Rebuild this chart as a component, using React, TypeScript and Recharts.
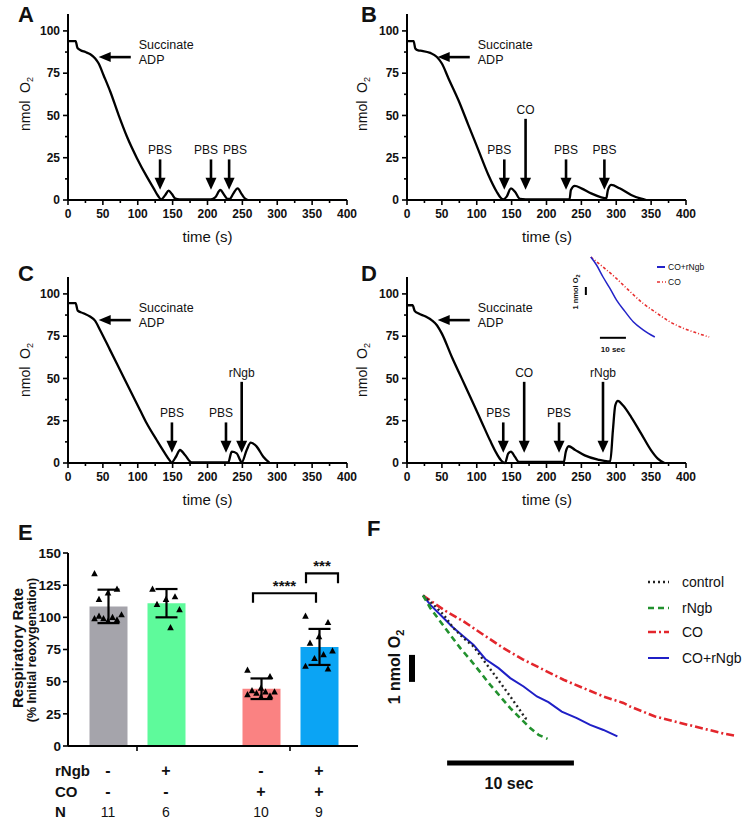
import React from 'react';
import {
  LineChart, Line, XAxis, YAxis, ReferenceLine,
  ComposedChart, Bar, Cell, ErrorBar, Scatter,
} from 'recharts';

const FONT = '"Liberation Sans", Arial, Helvetica, sans-serif';

// ---- A-D: oxygen traces (time in s, O2 in nmol)
const timeA = [0, 11, 13.5, 18, 25, 32, 39, 44, 51, 60.7, 72.6, 84.6, 99, 113, 122.8, 129, 133.5, 139.5, 144.3, 149, 154, 160, 205, 211, 218.4, 224, 229, 232, 236.5, 243.3, 249, 254, 257];
const o2A = [94, 94, 90, 88.6, 87.5, 86.2, 83.7, 80.7, 73.8, 64, 50.2, 37.4, 24.6, 13.8, 6.9, 2.5, 0.4, 3, 5.5, 3.5, 0.8, 0.4, 0.4, 1.5, 5.9, 3, 0.6, 0.6, 3.5, 6.9, 3.5, 0.8, 0.2];

const timeB = [0, 9.5, 11.9, 16, 21.4, 33.3, 42.9, 50, 59.5, 73.8, 88, 102.4, 116.7, 128.6, 134, 138, 142.9, 149, 154.8, 162, 170, 233, 235, 240.5, 250, 264, 278.6, 285.7, 288, 292.9, 304.8, 321.4, 335.7, 342.9];
const o2B = [94, 94, 89.6, 88.5, 88.2, 87, 84.6, 80.7, 71.9, 59, 44.3, 29.5, 14.8, 4.9, 1.5, 0.4, 2, 6.9, 4.9, 0.6, 0.4, 0.4, 5.9, 8.3, 6.9, 3.9, 1.6, 1, 5.9, 8.9, 6.9, 3, 0.8, 0];

const timeC = [0, 11, 13.9, 21.9, 31.5, 38.7, 45.9, 60.2, 81.7, 103.2, 112.8, 127.1, 139, 145, 148.6, 154.8, 160.6, 167.7, 177.3, 229.8, 234.7, 241.9, 247, 249, 256.2, 262, 270.6, 280, 288.6];
const o2C = [94.5, 94.5, 90.1, 88.6, 86.6, 84.2, 78.7, 66.9, 49.1, 31.4, 23.5, 13.6, 5.7, 2, 0.3, 3.7, 7.7, 4.7, 0.3, 0.3, 6.7, 5.7, 1.5, 0.3, 7.7, 12, 9.7, 3.7, 0.2];

const timeD = [0, 8, 11, 16.7, 26, 35.7, 42.9, 50, 64.3, 78.6, 92.9, 107, 119, 128.6, 135.7, 140.5, 145, 149, 154.8, 160.5, 224.8, 227.6, 231.9, 240.5, 254.8, 273.8, 288, 291.4, 295.2, 298.6, 302.4, 309.5, 321.4, 335.7, 350, 359.5, 369];
const o2D = [93.3, 93.3, 90, 88.4, 86.8, 84.4, 81.5, 76.5, 62.7, 49.9, 37.1, 24.3, 13.4, 5.5, 1.2, 0, 5.5, 6.7, 3.6, 0.6, 0.6, 6.5, 9.9, 7.9, 4.5, 2, 1, 1, 19.3, 34.1, 36.7, 34.1, 27.2, 17.4, 7.5, 2.6, 0];

// additions (time of injection, what was added)
const addA = [{ t: 132, what: 'PBS' }, { t: 205, what: 'PBS' }, { t: 231, what: 'PBS' }];
const addB = [{ t: 139.5, what: 'PBS' }, { t: 170, what: 'CO' }, { t: 228, what: 'PBS' }, { t: 283, what: 'PBS' }];
const addC = [{ t: 149, what: 'PBS' }, { t: 226.5, what: 'PBS' }, { t: 249, what: 'rNgb' }];
const addD = [{ t: 138, what: 'PBS' }, { t: 168, what: 'CO' }, { t: 218, what: 'PBS' }, { t: 281, what: 'rNgb' }];

const timeTicks = [0, 25, 50, 75, 100, 125, 150, 175, 200, 225, 250, 275, 300, 325, 350, 375, 400];
const o2Ticks = [0, 12.5, 25, 37.5, 50, 62.5, 75, 87.5, 100];

// ---- E: respiratory rate (% initial reoxygenation)
const coLevels = ['noCO', 'CO'];
const meanNoNgb = [108.5, 44.5];
const meanNgb = [111, 77];
const sdNoNgb = [13, 8];
const sdNgb = [11, 14];
const ptsCtrl = [134, 122, 119, 114, 102, 100, 99, 99, 98, 97, 101];
const ptsNgb = [122, 116, 114, 110, 106, 92];
const ptsCO = [59, 54, 45, 43, 42, 42, 41, 40, 39, 38];
const ptsCONgb = [101, 96, 85, 80, 74, 71, 68, 62, 60];
const rNgbRow = ['-', '+', '-', '+'];
const coRow = ['-', '-', '+', '+'];
const rateTicks = [0, 25, 50, 75, 100, 125, 150];

// ---- F: normalised reoxygenation traces (s, change in nmol O2)
const fCtrlT = [0, 0.84, 1.63, 2.41, 3.2, 3.99, 4.65, 5.43, 6.22, 6.88, 7.53, 8.06, 8.3];
const fCtrlO2 = [0, -0.35, -0.72, -1.21, -1.58, -1.89, -2.32, -2.81, -3.31, -3.74, -4.17, -4.54, -4.6];
const fNgbT = [0, 0.58, 1.36, 2.15, 2.94, 3.73, 4.51, 5.3, 6.09, 6.88, 7.66, 8.45, 9.11, 9.82];
const fNgbO2 = [0, -0.47, -0.96, -1.46, -1.95, -2.38, -2.84, -3.31, -3.74, -4.17, -4.54, -4.91, -5.16, -5.31];
const fCOT = [0, 1.63, 3.2, 4.78, 6.35, 7.93, 9.5, 11.08, 12.65, 14.23, 15.8, 16.33, 18.3, 20.9, 23.6, 24.7];
const fCOO2 = [0, -0.53, -0.96, -1.46, -1.95, -2.38, -2.75, -3.12, -3.43, -3.74, -3.98, -4.11, -4.48, -4.79, -5.1, -5.2];
const fCONgbT = [0, 0.58, 1.5, 2.28, 3.2, 3.99, 4.91, 5.96, 6.88, 7.93, 8.98, 9.89, 10.94, 12.13, 13.18, 14.23, 15.33];
const fCONgbO2 = [0, -0.35, -0.78, -1.15, -1.52, -1.83, -2.35, -2.69, -3.06, -3.37, -3.74, -3.95, -4.3, -4.54, -4.79, -4.98, -5.22];

// ---- D inset
const insetCONgbT = [0, 2.2, 4.7, 7.3, 9.9, 13.1, 16.3, 20.1, 24.6];
const insetCONgbO2 = [0, -1, -2.5, -3.9, -5.4, -6.8, -8.1, -9.1, -10];
const insetCOT = [0, 4.7, 9.9, 15, 20.1, 25.3, 30.4, 35.5, 40.7, 45.5];
const insetCOO2 = [0, -1.25, -2.7, -4.3, -5.8, -7, -8.1, -8.9, -9.5, -10];

const zip = (t: number[], v: number[]) => t.map((x, i) => ({ t: x, v: v[i] }));

const fSeries = [
  { name: 'control', data: zip(fCtrlT, fCtrlO2), color: '#222222', dash: '2 3', width: 2.4 },
  { name: 'rNgb', data: zip(fNgbT, fNgbO2), color: '#22912e', dash: '6 4', width: 2.6 },
  { name: 'CO', data: zip(fCOT, fCOO2), color: '#e3262c', dash: '8 3 2 3', width: 2.6 },
  { name: 'CO+rNgb', data: zip(fCONgbT, fCONgbO2), color: '#1f1fc6', dash: undefined, width: 2 },
];

const COLORS = { ctrl: '#a5a4ab', ngb: '#5efa9b', co: '#fa8282', congb: '#0ba4f4' };
const BAR = 38;
const GAP = 20;
const HALF = (BAR + GAP) / 2;

// ---------- ticks
const O2Tick = (p: any) => {
  const v = p.payload.value;
  const major = v % 25 === 0;
  return (
    <g>
      <line x1={p.x} x2={p.x - (major ? 5 : 3)} y1={p.y} y2={p.y} stroke="#000" strokeWidth={1.6} />
      {major && (
        <text x={p.x - 8} y={p.y + 4.2} textAnchor="end" fontSize={12} fontWeight="bold" fontFamily={FONT} fill="#111">{v}</text>
      )}
    </g>
  );
};

const TimeTick = (p: any) => {
  const v = p.payload.value;
  const major = v % 50 === 0;
  return (
    <g>
      <line x1={p.x} x2={p.x} y1={p.y} y2={p.y + (major ? 5 : 3)} stroke="#000" strokeWidth={1.6} />
      {major && (
        <text x={p.x} y={p.y + 18} textAnchor="middle" fontSize={12} fontWeight="bold" fontFamily={FONT} fill="#111">{v}</text>
      )}
    </g>
  );
};

const RateTick = (p: any) => (
  <g>
    <line x1={p.x} x2={p.x - 5} y1={p.y} y2={p.y} stroke="#000" strokeWidth={1.6} />
    <text x={p.x - 7} y={p.y + 4.8} textAnchor="end" fontSize={13.5} fontWeight="bold" fontFamily={FONT} fill="#111">{p.payload.value}</text>
  </g>
);

const counts = [ptsCtrl.length, ptsNgb.length, ptsCO.length, ptsCONgb.length];

const GroupTick = (p: any) => {
  const g = coLevels.indexOf(p.payload.value);
  return (
    <g fontFamily={FONT} fill="#111">
      <line x1={p.x} x2={p.x} y1={p.y} y2={p.y + 5} stroke="#000" strokeWidth={1.6} />
      {[0, 1].map((s) => {
        const k = g * 2 + s;
        const x = p.x + (s ? HALF : -HALF);
        return (
          <g key={s}>
            <text x={x} y={p.y + 30} textAnchor="middle" fontSize={16} fontWeight="bold">{rNgbRow[k]}</text>
            <text x={x} y={p.y + 51} textAnchor="middle" fontSize={16} fontWeight="bold">{coRow[k]}</text>
            <text x={x} y={p.y + 71} textAnchor="middle" fontSize={14}>{counts[k]}</text>
          </g>
        );
      })}
    </g>
  );
};

// ---------- annotation shapes
const downArrow = (label: string, dx: number) => (p: any) => {
  const { x1, y1, x2, y2 } = p;
  return (
    <g>
      <line x1={x1} y1={y1} x2={x2} y2={y2 - 10} stroke="#000" strokeWidth={2.6} />
      <polygon points={`${x2 - 5.5},${y2 - 12} ${x2 + 5.5},${y2 - 12} ${x2},${y2}`} fill="#000" />
      <text x={x1 + dx} y={y1 - 5} textAnchor="middle" fontSize={12} fontFamily={FONT} fill="#111">{label}</text>
    </g>
  );
};

// push labels of close neighbouring additions apart so they don't collide
const labelShift = (adds: any[], i: number) => {
  const prev = adds[i - 1];
  const next = adds[i + 1];
  if (next && next.t - adds[i].t < 35) return -5;
  if (prev && adds[i].t - prev.t < 35) return 6;
  return 0;
};

const succinateArrow = (p: any) => {
  const { x1, y1, x2, y2 } = p;
  return (
    <g>
      <line x1={x1} y1={y1} x2={x2 + 11} y2={y2} stroke="#000" strokeWidth={2.6} />
      <polygon points={`${x2 + 12},${y2 - 5} ${x2 + 12},${y2 + 5} ${x2},${y2}`} fill="#000" />
      <text x={x1 + 8} y={y1 - 8} fontSize={12.5} fontFamily={FONT} fill="#111">Succinate</text>
      <text x={x1 + 8} y={y1 + 7} fontSize={12.5} fontFamily={FONT} fill="#111">ADP</text>
    </g>
  );
};

const bracket = (left: number, right: number, stars: string) => (p: any) => {
  const { x1, y1, y2 } = p;
  return (
    <g>
      <polyline
        points={`${x1 + left},${y2} ${x1 + left},${y1} ${x1 + right},${y1} ${x1 + right},${y2}`}
        fill="none" stroke="#000" strokeWidth={2.2}
      />
      <text x={x1 + (left + right) / 2} y={y1 - 2.5} textAnchor="middle" fontSize={15} fontWeight="bold" fontFamily={FONT} fill="#111">{stars}</text>
    </g>
  );
};

const triangle = (p: any) => {
  const { cx, cy, payload } = p;
  const jit = (((payload.j * 5) % 7) - 3) * 4.5;
  const x = cx + payload.side * HALF + jit;
  return <polygon points={`${x},${cy - 3.6} ${x - 3.3},${cy + 2.6} ${x + 3.3},${cy + 2.6}`} fill="#000" />;
};

// ---------- panels
function TracePanel({ left, top, time, o2, additions }: any) {
  const data = zip(time, o2);
  const axisLine = { stroke: '#000', strokeWidth: 2 };
  return (
    <div style={{ position: 'absolute', left, top }}>
      <LineChart width={372} height={250} data={data} margin={{ top: 14, right: 25, bottom: 0, left: 0 }}>
        <XAxis dataKey="t" type="number" domain={[0, 400]} ticks={timeTicks} interval={0}
          tickSize={0} tickMargin={0} tickLine={false} tick={<TimeTick />} height={50} axisLine={axisLine} />
        <YAxis type="number" domain={[0, 110]} ticks={o2Ticks} interval={0} width={68}
          tickSize={0} tickMargin={0} tickLine={false} tick={<O2Tick />} axisLine={axisLine} />
        <ReferenceLine segment={[{ x: 90, y: 84.5 }, { x: 44, y: 84.5 }]} shape={succinateArrow} />
        {additions.map((a: any, i: number) => (
          <ReferenceLine key={a.t} segment={[{ x: a.t, y: a.what === 'PBS' ? 24 : 48 }, { x: a.t, y: 6 }]}
            shape={downArrow(a.what, a.what === 'PBS' ? labelShift(additions, i) : 0)} />
        ))}
        <Line dataKey="v" type="monotone" stroke="#000" strokeWidth={2.3} dot={false} isAnimationActive={false} />
      </LineChart>
    </div>
  );
}

function InsetD() {
  return (
    <div style={{ position: 'absolute', left: 583, top: 253 }}>
      <LineChart width={128} height={96} margin={{ top: 0, right: 0, bottom: 0, left: 0 }}>
        <XAxis type="number" dataKey="t" domain={[-3, 46.2]} hide />
        <YAxis type="number" domain={[-11.5, 0.5]} hide />
        <ReferenceLine segment={[{ x: -1.9, y: -3.75 }, { x: -1.9, y: -4.75 }]} stroke="#000" strokeWidth={2} />
        <ReferenceLine segment={[{ x: 3.5, y: -10.1 }, { x: 13.5, y: -10.1 }]} stroke="#000" strokeWidth={2} />
        <Line data={zip(insetCOT, insetCOO2)} dataKey="v" type="monotone" stroke="#e83030" strokeWidth={1.6}
          strokeDasharray="3 2 1 2" dot={false} isAnimationActive={false} />
        <Line data={zip(insetCONgbT, insetCONgbO2)} dataKey="v" type="monotone" stroke="#2323c8" strokeWidth={1.5}
          dot={false} isAnimationActive={false} />
      </LineChart>
    </div>
  );
}

function RatePanel() {
  const barData = coLevels.map((g, i) => ({ g, a: meanNoNgb[i], aSd: sdNoNgb[i], b: meanNgb[i], bSd: sdNgb[i] }));
  const pts = [
    ...ptsCtrl.map((v, j) => ({ g: 'noCO', v, side: -1, j })),
    ...ptsNgb.map((v, j) => ({ g: 'noCO', v, side: 1, j })),
    ...ptsCO.map((v, j) => ({ g: 'CO', v, side: -1, j })),
    ...ptsCONgb.map((v, j) => ({ g: 'CO', v, side: 1, j })),
  ];
  const axisLine = { stroke: '#000', strokeWidth: 2 };
  return (
    <div style={{ position: 'absolute', left: 0, top: 540 }}>
      <ComposedChart width={372} height={280} data={barData} barGap={GAP}
        margin={{ top: 13, right: 14, bottom: 0, left: 0 }}>
        <XAxis dataKey="g" type="category" allowDuplicatedCategory={false} padding={{ left: -7.5, right: -8.5 }}
          height={74} tickSize={0} tickMargin={0} tickLine={false} tick={<GroupTick />} axisLine={axisLine} interval={0} />
        <YAxis type="number" domain={[0, 150]} ticks={rateTicks} interval={0} width={68}
          tickSize={0} tickMargin={0} tickLine={false} tick={<RateTick />} axisLine={axisLine} />
        <Bar dataKey="a" barSize={BAR} isAnimationActive={false}>
          <Cell fill={COLORS.ctrl} />
          <Cell fill={COLORS.co} />
          <ErrorBar dataKey="aSd" width={11} stroke="#000" strokeWidth={2.2} />
        </Bar>
        <Bar dataKey="b" barSize={BAR} isAnimationActive={false}>
          <Cell fill={COLORS.ngb} />
          <Cell fill={COLORS.congb} />
          <ErrorBar dataKey="bSd" width={11} stroke="#000" strokeWidth={2.2} />
        </Bar>
        <Scatter data={pts} dataKey="v" shape={triangle} isAnimationActive={false} />
        <ReferenceLine segment={[{ x: 'CO', y: 118.7 }, { x: 'CO', y: 111.4 }]} shape={bracket(-37, 26, '****')} />
        <ReferenceLine segment={[{ x: 'CO', y: 134.1 }, { x: 'CO', y: 126.4 }]} shape={bracket(16, 48, '***')} />
      </ComposedChart>
    </div>
  );
}

function TracesF() {
  return (
    <div style={{ position: 'absolute', left: 385, top: 582 }}>
      <LineChart width={355} height={216} margin={{ top: 0, right: 0, bottom: 0, left: 0 }}>
        <XAxis type="number" dataKey="t" domain={[-3, 25]} hide />
        <YAxis type="number" domain={[-7.5, 0.5]} hide />
        <ReferenceLine segment={[{ x: 1.9, y: -6.2 }, { x: 11.9, y: -6.2 }]} stroke="#000" strokeWidth={5} />
        <ReferenceLine segment={[{ x: -0.87, y: -2.2 }, { x: -0.87, y: -3.2 }]} stroke="#000" strokeWidth={6} />
        {[2, 3, 0, 1].map((i) => {
          const s = fSeries[i];
          return (
            <Line key={s.name} data={s.data} dataKey="v" type="linear" stroke={s.color} strokeWidth={s.width}
              strokeDasharray={s.dash} dot={false} isAnimationActive={false} />
          );
        })}
      </LineChart>
    </div>
  );
}

const sub2 = (size: number, dy: number) => <tspan dy={dy} fontSize={size}>2</tspan>;

function Overlay() {
  const letters = [
    { s: 'A', x: 18, y: 22 }, { s: 'B', x: 361, y: 22 },
    { s: 'C', x: 18, y: 281 }, { s: 'D', x: 361, y: 281 },
    { s: 'E', x: 18, y: 540 }, { s: 'F', x: 367, y: 536 },
  ];
  const yTitles = [{ x: 30, y: 104 }, { x: 367, y: 104 }, { x: 30, y: 370 }, { x: 367, y: 370 }];
  const xTitles = [{ x: 207.5, y: 242 }, { x: 547, y: 242 }, { x: 207.5, y: 505 }, { x: 547, y: 505 }];
  const legendRows = [582, 608, 632, 658];
  return (
    <svg width={745} height={820} style={{ position: 'absolute', left: 0, top: 0, pointerEvents: 'none' }}
      fontFamily={FONT} fill="#111">
      {letters.map((l) => (
        <text key={l.s} x={l.x} y={l.y} fontSize={22} fontWeight="bold">{l.s}</text>
      ))}
      {yTitles.map((p, i) => (
        <text key={i} transform={`translate(${p.x},${p.y}) rotate(-90)`} textAnchor="middle" fontSize={14}>
          nmol{'\u00a0 '}O{sub2(9, 3)}
        </text>
      ))}
      {xTitles.map((p, i) => (
        <text key={i} x={p.x} y={p.y} textAnchor="middle" fontSize={15}>time (s)</text>
      ))}

      {/* E titles and row labels */}
      <text transform="translate(22.5,648) rotate(-90)" textAnchor="middle" fontSize={15} fontWeight="bold">Respiratory Rate</text>
      <text transform="translate(35.5,650) rotate(-90)" textAnchor="middle" fontSize={12.5} fontWeight="bold">(% Initial reoxygenation)</text>
      <text x={55} y={776} fontSize={15} fontWeight="bold">rNgb</text>
      <text x={55} y={797} fontSize={15} fontWeight="bold">CO</text>
      <text x={55} y={817} fontSize={15} fontWeight="bold">N</text>

      {/* F scale labels and legend */}
      <text x={509} y={789} textAnchor="middle" fontSize={16} fontWeight="bold">10 sec</text>
      <text transform="translate(400,667) rotate(-90)" textAnchor="middle" fontSize={16} fontWeight="bold">
        1 nmol O{sub2(11, 4)}
      </text>
      {fSeries.map((s, i) => (
        <g key={s.name}>
          <line x1={648} x2={669} y1={legendRows[i]} y2={legendRows[i]} stroke={s.color} strokeWidth={s.width}
            strokeDasharray={s.dash} />
          <text x={682} y={legendRows[i] + 5.2} fontSize={14}>{s.name}</text>
        </g>
      ))}

      {/* D inset labels */}
      <text transform="translate(578,292) rotate(-90)" textAnchor="middle" fontSize={7.5} fontWeight="bold">
        1 nmol O{sub2(5.5, 2)}
      </text>
      <text x={613} y={352} textAnchor="middle" fontSize={8} fontWeight="bold">10 sec</text>
      <line x1={657} x2={665} y1={267} y2={267} stroke="#2323c8" strokeWidth={2} />
      <text x={668} y={270} fontSize={8.5}>CO+rNgb</text>
      <line x1={657} x2={666} y1={282} y2={282} stroke="#e83030" strokeWidth={1.6} strokeDasharray="3 2 1 2" />
      <text x={668} y={285} fontSize={8.5}>CO</text>
    </svg>
  );
}

export default function App() {
  return (
    <div style={{ position: 'absolute', left: 0, top: 0, width: 745, height: 820, background: '#fff', fontFamily: FONT }}>
      <TracePanel left={0} top={0} time={timeA} o2={o2A} additions={addA} />
      <TracePanel left={339} top={0} time={timeB} o2={o2B} additions={addB} />
      <TracePanel left={0} top={263} time={timeC} o2={o2C} additions={addC} />
      <TracePanel left={339} top={263} time={timeD} o2={o2D} additions={addD} />
      <InsetD />
      <RatePanel />
      <TracesF />
      <Overlay />
    </div>
  );
}
